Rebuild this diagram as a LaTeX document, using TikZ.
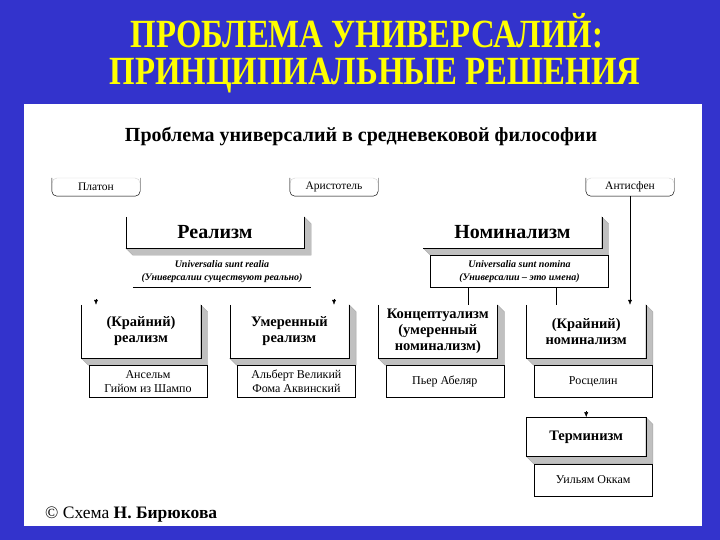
\documentclass[tikz,border=0pt]{standalone}
\usepackage{graphicx}
\usepackage{fontspec}
\setmainfont{Liberation Serif}
\usetikzlibrary{positioning, arrows.meta}
\definecolor{slideblue}{RGB}{51,51,204}
\definecolor{titleyellow}{RGB}{255,255,0}
\definecolor{extrude}{RGB}{192,192,192}

\begin{document}
\begin{tikzpicture}[
  x=1pt, y=-1pt,
  title/.style={text=titleyellow, font=\bfseries\fontsize{40}{44}\selectfont},
  school/.style={minimum width=119pt, minimum height=53pt, inner sep=0pt, align=center,
                 font=\bfseries\fontsize{14.5}{16}\selectfont},
  names/.style={draw, fill=white, minimum width=118pt, minimum height=32pt, inner sep=0pt,
                align=center, font=\fontsize{12}{14}\selectfont},
  thinker/.style={draw=gray!35, rounded corners=5pt, minimum width=88pt, minimum height=18pt,
                  inner sep=0pt, font=\fontsize{11.5}{13}\selectfont},
  head/.style={minimum width=178pt, minimum height=31pt, inner sep=0pt,
               font=\bfseries\fontsize{20}{22}\selectfont},
  motto/.style={minimum width=178pt, minimum height=32pt, inner sep=0pt, align=center,
                font=\bfseries\itshape\fontsize{10}{12.5}\selectfont},
  arr/.style={-{Latex[length=5pt, width=4pt]}},
]
  % slide background and white sheet
  \fill[slideblue] (0,0) rectangle (720,540);
  \useasboundingbox (0,0) rectangle (720,540);
  \fill[white] (24,104) rectangle (702,526);

  % title
  \node[title, anchor=base] (title1) at (367,48) {\scalebox{0.82}[1]{ПРОБЛЕМА УНИВЕРСАЛИЙ:}};
  \node[title, anchor=base] (title2) at (375,85) {\scalebox{0.82}[1]{ПРИНЦИПИАЛЬНЫЕ РЕШЕНИЯ}};

  \node[font=\bfseries\fontsize{20}{22}\selectfont, anchor=base]
    (subtitle) at (361,142) {Проблема универсалий в средневековой философии};

  % thinkers
  \node[thinker] (platon) at (96,187) {Платон};
  \node[thinker] (arist) at (334,187) {Аристотель};
  \node[thinker] (antis) at (630,187) {Антисфен};
  \foreach \n in {platon, arist, antis}
    \draw[rounded corners=5pt] (\n.north west) -- (\n.south west) -- (\n.south east) -- (\n.north east);

  % two main positions
  \node[head] (real) at (215,232.5) {Реализм};
  \node[head] (nom) at (512.5,232.5) {Номинализм};
  \node[motto, below=7pt of real, xshift=7pt]
    (realmotto) {Universalia sunt realia\\(Универсалии существуют реально)};

  % schools
  \node[school] (exreal) at (141,331.5) {(Крайний)\\реализм};
  \node[school, right=29pt of exreal] (modreal) {Умеренный\\реализм};
  \node[school, right=29pt of modreal] (concept) {Концептуализм\\(умеренный\\номинализм)};
  \node[school, right=29pt of concept] (exnom) {(Крайний)\\номинализм};
  \node[school, minimum height=39pt, below=59pt of exnom] (term) {Терминизм};

  % 3d extrusion
  \foreach \n in {real, nom, exreal, modreal, concept, exnom, term}
    \filldraw[fill=extrude, draw=gray!70] (\n.north east) -- ++(7,7) -- ([shift={(7pt,-7pt)}]\n.south east)
      -- ([shift={(7pt,-7pt)}]\n.south west) -- (\n.south west) -- (\n.south east) -- cycle;

  \node[motto, draw, fill=white, below=7pt of nom, xshift=7pt]
    (nommotto) {Universalia sunt nomina\\(Универсалии – это имена)};

  \foreach \n in {real, exreal, modreal, concept, exnom}
    \draw (\n.north west) -- (\n.south west) -- (\n.south east) -- (\n.north east);
  \draw (nom.south west) -- (nom.south east) -- (nom.north east);
  \draw (term.north west) rectangle (term.south east);
  \draw (realmotto.south west) -- (realmotto.south east);

  % names
  \node[names, below=7pt of exreal, xshift=7pt] (anselm) {Ансельм\\Гийом из Шампо};
  \node[names, below=7pt of modreal, xshift=7pt] (albert) {Альберт Великий\\Фома Аквинский};
  \node[names, below=7pt of concept, xshift=7pt] (abelard) {Пьер Абеляр};
  \node[names, below=7pt of exnom, xshift=7pt] (roscel) {Росцелин};
  \node[names, below=7pt of term, xshift=7pt] (occam) {Уильям Оккам};

  % connectors
  \draw ([xshift=30pt]concept.north) -- ([xshift=30pt]concept.north |- nommotto.south);
  \draw ([xshift=-30pt]exnom.north) -- ([xshift=-30pt]exnom.north |- nommotto.south);
  \draw[arr] (antis) -- (antis |- exnom.north);
  \draw[arr] ([yshift=6pt]exreal.north -| platon) -- (exreal.north -| platon);
  \draw[arr] ([yshift=6pt]modreal.north -| arist) -- (modreal.north -| arist);
  \draw[arr] ([yshift=6pt]term.north) -- (term.north);

  \node[anchor=base west, inner sep=0pt, font=\fontsize{17.5}{20}\selectfont]
    (credit) at (45,518) {© Схема \textbf{Н. Бирюкова}};
\end{tikzpicture}
\end{document}
